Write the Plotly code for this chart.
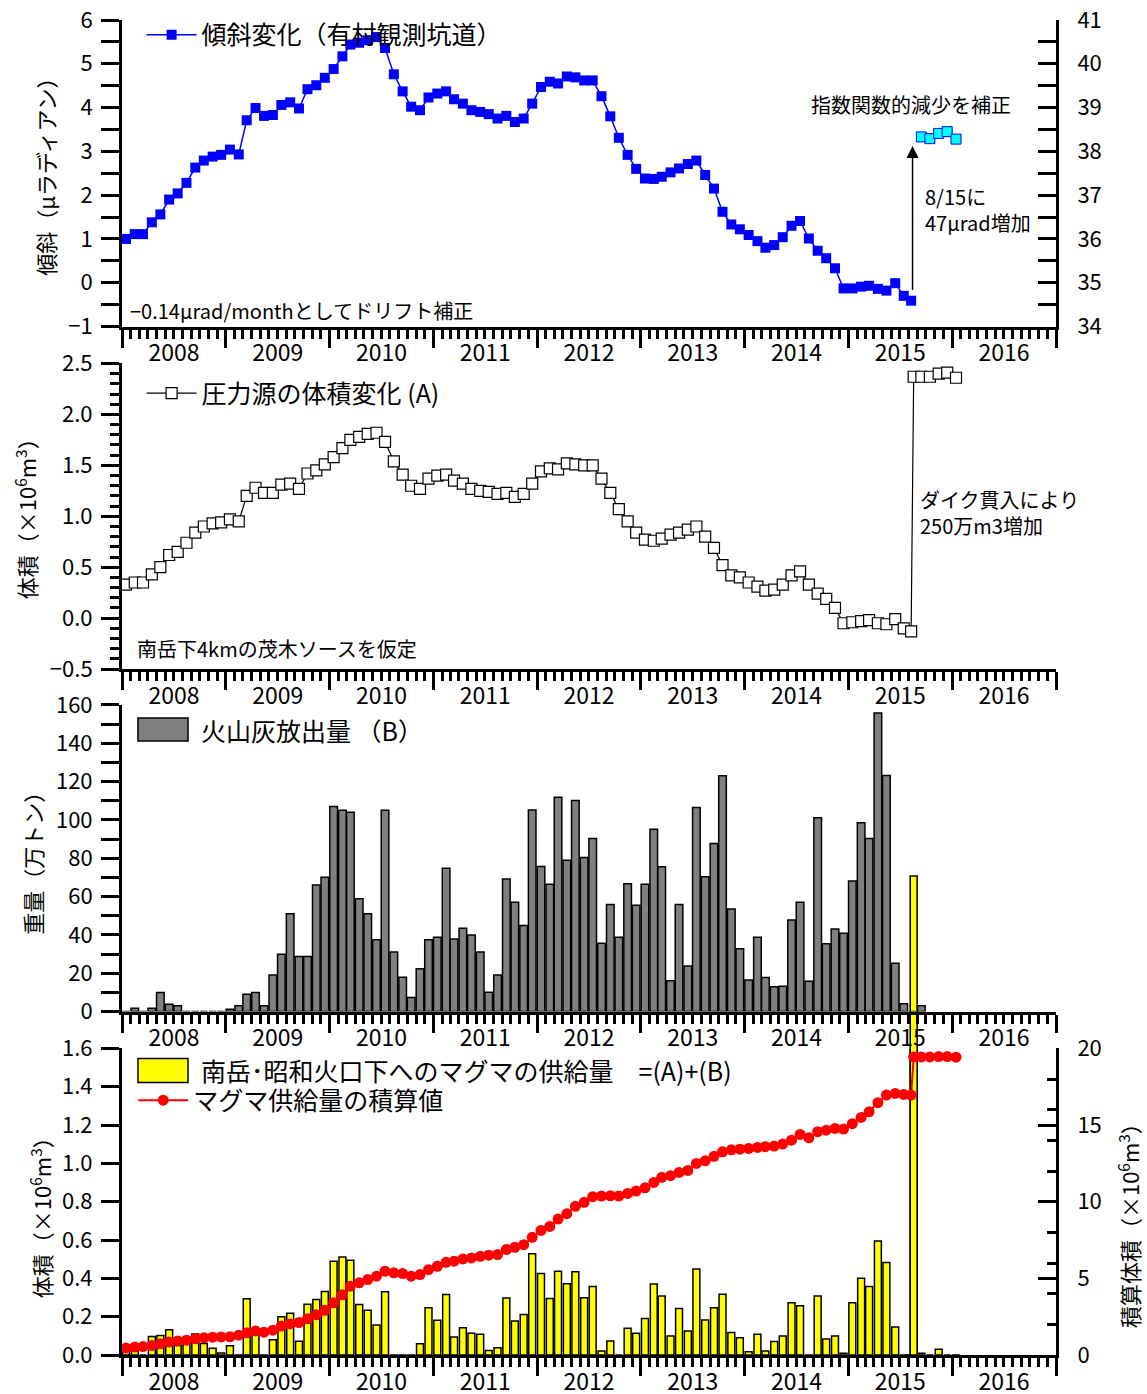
import pandas as pd
import plotly.graph_objects as go

FONT = "Noto Sans CJK JP"

def month_mids(y, m, n):
    out = []
    for _ in range(n):
        out.append(f"{y}-{m:02d}-15")
        m += 1
        if m > 12:
            m = 1
            y += 1
    return out

# ---- time categories ----
MONTHLY = month_mids(2007, 12, 92)          # Dec 2007 .. Jul 2015
AUG_PRE = "2015-08-10"                      # before the 8/15 dike intrusion
AUG_POST = "2015-08-19"                     # after the 8/15 dike intrusion
AUG_EVENT = "2015-08-15"
POST = month_mids(2015, 9, 5)               # Sep 2015 .. Jan 2016

# ---- panel 1: tilt (micro-radian) ----
tilt = [0.86,
        1.00, 1.11, 1.11, 1.38, 1.56, 1.90, 2.04, 2.28, 2.63, 2.79, 2.88, 2.92,
        3.04, 2.93, 3.71, 3.99, 3.81, 3.83, 4.06, 4.12, 3.98, 4.42, 4.51, 4.68,
        4.88, 5.17, 5.44, 5.48, 5.54, 5.61, 5.36, 4.76, 4.37, 4.02, 3.94, 4.23,
        4.32, 4.37, 4.19, 4.09, 3.94, 3.90, 3.85, 3.75, 3.81, 3.67, 3.75, 4.09,
        4.47, 4.59, 4.55, 4.71, 4.69, 4.62, 4.62, 4.26, 3.80, 3.31, 2.92, 2.60,
        2.38, 2.37, 2.42, 2.52, 2.61, 2.71, 2.79, 2.46, 2.15, 1.62, 1.33, 1.22,
        1.09, 0.95, 0.80, 0.86, 1.04, 1.30, 1.41, 1.01, 0.73, 0.56, 0.33, -0.13,
        -0.13, -0.09, -0.07, -0.14, -0.18, -0.01, -0.30,
        -0.41]
tilt_x = MONTHLY + [AUG_PRE]
tilt_corr = [3.33, 3.29, 3.41, 3.45, 3.28]
tilt_corr_x = POST
arrow_from, arrow_to = -0.20, 3.12

# ---- panel 2: source volume change A (x10^6 m3) ----
vol_a = [0.28,
         0.33, 0.35, 0.35, 0.43, 0.50, 0.62, 0.65, 0.74, 0.84, 0.90, 0.93, 0.94,
         0.97, 0.95, 1.20, 1.28, 1.23, 1.23, 1.31, 1.32, 1.27, 1.42, 1.45, 1.51,
         1.58, 1.67, 1.75, 1.78, 1.81, 1.82, 1.73, 1.54, 1.41, 1.30, 1.27, 1.37,
         1.40, 1.41, 1.35, 1.32, 1.27, 1.25, 1.24, 1.22, 1.23, 1.19, 1.22, 1.32,
         1.44, 1.47, 1.46, 1.52, 1.51, 1.50, 1.50, 1.37, 1.23, 1.07, 0.95, 0.84,
         0.77, 0.76, 0.78, 0.82, 0.84, 0.87, 0.90, 0.80, 0.69, 0.52, 0.42, 0.40,
         0.35, 0.31, 0.27, 0.28, 0.33, 0.42, 0.46, 0.33, 0.24, 0.19, 0.10, -0.05,
         -0.04, -0.03, -0.02, -0.05, -0.06, -0.01, -0.10,
         -0.13, 2.37,
         2.37, 2.37, 2.40, 2.41, 2.36]
vol_a_x = MONTHLY + [AUG_PRE, AUG_POST] + POST

# ---- panel 3: ash emission B (10^4 t) ----
ash = [0,
       0, 1.7, 0, 1.7, 9.9, 3.8, 3.0, 0, 0, 0, 0, 0,
       1.2, 3.0, 9.0, 9.9, 3.0, 19.1, 29.9, 51.0, 28.7, 28.7, 66.1, 70.1,
       107.0, 105.0, 104.0, 58.8, 51.0, 37.4, 105.0, 31.0, 17.9, 7.3, 22.3, 37.4,
       38.8, 74.8, 37.9, 43.5, 40.0, 31.0, 10.1, 19.1, 69.2, 57.0, 44.9, 105.2,
       75.7, 66.4, 111.8, 79.0, 110.1, 80.4, 90.3, 35.6, 55.9, 38.7, 66.7, 55.4,
       66.4, 95.2, 75.6, 16.0, 55.9, 23.8, 106.5, 70.4, 87.7, 123.0, 53.5, 32.7,
       16.5, 38.7, 17.7, 12.9, 13.2, 47.8, 57.0, 15.8, 101.1, 35.4, 43.1, 40.8,
       68.1, 98.5, 90.3, 155.8, 123.2, 25.2, 4.0,
       0, 3.0]
ash_x = MONTHLY + ["2015-08-15", "2015-09-15"]

# ---- panel 4: magma supply (A)+(B) (x10^6 m3) and cumulative ----
supply = [0.072,
          0.04, 0.02, 0.0, 0.097, 0.102, 0.132, 0.05, 0.07, 0.11, 0.06, 0.035, 0.01,
          0.048, -0.02, 0.293, 0.12, -0.042, 0.08, 0.20, 0.218, 0.072, 0.265, 0.29, 0.332,
          0.489, 0.512, 0.495, 0.264, 0.233, 0.156, 0.330, -0.069, -0.049, -0.087, 0.059, 0.246,
          0.182, 0.316, 0.094, 0.142, 0.113, 0.108, 0.024, 0.038, 0.298, 0.177, 0.212, 0.528,
          0.425, 0.295, 0.437, 0.372, 0.435, 0.299, 0.357, 0.021, 0.073, 0.0, 0.139, 0.113,
          0.191, 0.370, 0.308, 0.099, 0.243, 0.125, 0.449, 0.183, 0.247, 0.317, 0.118, 0.090,
          0.017, 0.108, 0.021, 0.070, 0.099, 0.273, 0.257, -0.070, 0.308, 0.083, 0.099, 0.009,
          0.273, 0.400, 0.357, 0.595, 0.483, 0.146, -0.075,
          -0.035, 2.50,
          0.009, 0.0, 0.030, 0.0, -0.047]
supply_x = MONTHLY + [AUG_PRE, AUG_POST] + POST

cumulative = [0.45, 0.52, 0.55, 0.62, 0.73, 0.84, 0.92, 0.97, 1.06, 1.12, 1.16, 1.18,
              1.19, 1.29, 1.45, 1.57, 1.49, 1.62, 1.89, 2.03, 2.12, 2.36, 2.63, 2.92,
              3.41, 3.93, 4.49, 4.71, 4.92, 5.14, 5.47, 5.36, 5.31, 5.14, 5.25, 5.57,
              5.79, 6.05, 6.12, 6.27, 6.33, 6.44, 6.51, 6.55, 6.88, 7.03, 7.20, 7.68,
              8.13, 8.39, 8.87, 9.22, 9.70, 9.96, 10.33, 10.37, 10.39, 10.37, 10.54, 10.70,
              10.91, 11.26, 11.59, 11.70, 11.91, 12.04, 12.50, 12.67, 12.96, 13.26, 13.39, 13.43,
              13.48, 13.54, 13.59, 13.63, 13.76, 14.02, 14.39, 14.17, 14.57, 14.67, 14.78, 14.74,
              15.09, 15.50, 15.87, 16.46, 16.96, 17.07, 17.00,
              16.96, 19.45,
              19.45, 19.45, 19.47, 19.47, 19.43]
cumulative_x = MONTHLY[1:] + [AUG_PRE, AUG_POST] + POST

NAME_TILT = "傾斜変化（有村観測坑道）"
NAME_A = "圧力源の体積変化 (A)"
NAME_ASH = "火山灰放出量 （B）"
NAME_SUPPLY = "南岳･昭和火口下へのマグマの供給量　=(A)+(B)"
NAME_CUM = "マグマ供給量の積算値"

Y4_RANGE = [0, 1.6]
MONTH_MS = 30.44 * 86400000
SUPPLY_W = 0.8 * MONTH_MS
ASH_COLOR, SUPPLY_COLOR = "#808080", "#FFFF00"

fig = go.Figure()

# panel 1
fig.add_trace(go.Scatter(
    x=tilt_x, y=tilt, mode="lines+markers", name=NAME_TILT,
    line=dict(color="#0000FF", width=1.5),
    marker=dict(symbol="square", size=10, color="#0000FF"),
    xaxis="x", yaxis="y", cliponaxis=False, legend="legend"))
fig.add_trace(go.Scatter(
    x=tilt_corr_x, y=tilt_corr, mode="markers", showlegend=False,
    marker=dict(symbol="square", size=10, color="#00FFFF",
                line=dict(color="#0000FF", width=1)),
    xaxis="x", yaxis="y", cliponaxis=False))
fig.add_trace(go.Scatter(x=[], y=[], xaxis="x", yaxis="y5", showlegend=False))

# panel 2
fig.add_trace(go.Scatter(
    x=vol_a_x, y=vol_a, mode="lines+markers", name=NAME_A,
    line=dict(color="black", width=1.2),
    marker=dict(symbol="square", size=11, color="white",
                line=dict(color="black", width=1.2)),
    xaxis="x2", yaxis="y2", cliponaxis=False, legend="legend2"))

# panel 3
fig.add_trace(go.Bar(
    x=ash_x, y=ash, name=NAME_ASH, showlegend=False,
    width=0.88 * MONTH_MS,
    marker=dict(color=ASH_COLOR, line=dict(color="black", width=1.5)),
    xaxis="x3", yaxis="y3"))

# panel 4
fig.add_trace(go.Bar(
    x=supply_x, y=supply, name=NAME_SUPPLY, showlegend=False,
    width=SUPPLY_W,
    marker=dict(color=SUPPLY_COLOR, line=dict(color="black", width=1.5)),
    xaxis="x4", yaxis="y4", cliponaxis=False))
fig.add_trace(go.Scatter(
    x=cumulative_x, y=cumulative, mode="lines+markers", name=NAME_CUM,
    line=dict(color="#FF0000", width=2),
    marker=dict(symbol="circle", size=11, color="#FF0000"),
    xaxis="x4", yaxis="y6", legend="legend4"))

# the dike-intrusion bar runs past the top of its panel (as in the original):
# draw its full height, clipped only horizontally
big_i = supply.index(max(supply))
big_t = pd.Timestamp(supply_x[big_i])
half = pd.Timedelta(milliseconds=SUPPLY_W / 2)
fig.add_shape(type="rect", xref="x4", yref="y4 domain",
              x0=str(big_t - half), x1=str(big_t + half),
              y0=0, y1=supply[big_i] / Y4_RANGE[1],
              fillcolor=SUPPLY_COLOR, line=dict(color="black", width=1.5), layer="below")

# ---- axes ----
xcommon = dict(
    type="date", range=["2008-01-01", "2017-01-01"],
    tick0="2008-01-01", dtick="M12", tickformat="%Y", ticklabelmode="period",
    ticks="outside", ticklen=18, tickwidth=2.5, tickcolor="black",
    minor=dict(dtick="M1", ticks="outside", ticklen=9, tickwidth=2.5, tickcolor="black"),
    showline=True, linewidth=3, linecolor="black",
    showgrid=False, zeroline=False, automargin=False,
    tickfont=dict(size=23, color="black"), ticklabelstandoff=-14)

ycommon = dict(showline=True, linewidth=3, linecolor="black", showgrid=False,
               zeroline=False, automargin=False, ticks="outside", ticklen=18,
               tickwidth=2.5, tickcolor="black", tickfont=dict(size=22, color="black"),
               ticklabelstandoff=4)

D1 = [0.7704, 1.0]
D2 = [0.5138, 0.7427]
D3 = [0.2573, 0.4869]
D4 = [0.0, 0.2296]

fig.update_layout(
    xaxis=dict(xcommon, anchor="y"),
    xaxis2=dict(xcommon, anchor="y2"),
    xaxis3=dict(xcommon, anchor="y3"),
    xaxis4=dict(xcommon, anchor="y4"),
    yaxis=dict(ycommon, domain=D1, anchor="x", range=[-1, 6], dtick=1,
               minor=dict(dtick=0.5, ticks="outside", ticklen=18, tickwidth=2.5, tickcolor="black")),
    yaxis5=dict(ycommon, overlaying="y", side="right", anchor="x", range=[34, 41], dtick=1,
                ticks="inside", ticklabelstandoff=14,
                minor=dict(dtick=0.5, ticks="inside", ticklen=18, tickwidth=2.5, tickcolor="black")),
    yaxis2=dict(ycommon, domain=D2, anchor="x2", range=[-0.5, 2.5], dtick=0.5, tickformat=".1f",
                minor=dict(dtick=0.1, ticks="outside", ticklen=9, tickwidth=2.5, tickcolor="black")),
    yaxis3=dict(ycommon, domain=D3, anchor="x3", range=[0, 160], dtick=20,
                minor=dict(dtick=10, ticks="outside", ticklen=18, tickwidth=2.5, tickcolor="black")),
    yaxis4=dict(ycommon, domain=D4, anchor="x4", range=Y4_RANGE, dtick=0.2, tickformat=".1f"),
    yaxis6=dict(ycommon, overlaying="y4", side="right", anchor="x4", range=[0, 20], dtick=5,
                ticks="inside", ticklabelstandoff=14,
                minor=dict(dtick=2, ticks="inside", ticklen=9, tickwidth=2.5, tickcolor="black")),
    barmode="overlay",
    width=1147, height=1394,
    margin=dict(l=122, r=91, t=18, b=39),
    paper_bgcolor="white", plot_bgcolor="white",
    font=dict(family=FONT, size=22, color="black"),
    hovermode=False,
)

leg = dict(bgcolor="rgba(0,0,0,0)", borderwidth=0, font=dict(size=25, color="black"),
           xanchor="left", yanchor="middle", x=0.021, itemwidth=50, tracegroupgap=0)
fig.update_layout(
    legend=dict(leg, y=0.9888),
    legend2=dict(leg, y=0.7203),
    legend4=dict(leg, y=0.1907, x=0.012),
)

# legend entries for the bar series, with the wide swatch of the original
def bar_key(name, color, y0, y1, ytext):
    fig.add_shape(type="rect", xref="paper", yref="paper",
                  x0=0.0171, x1=0.0707, y0=y0, y1=y1,
                  fillcolor=color, line=dict(color="black", width=1.5))
    fig.add_annotation(text=name, xref="paper", yref="paper", x=0.0825, y=ytext,
                       xanchor="left", yanchor="middle", showarrow=False,
                       font=dict(size=25))

bar_key(NAME_ASH, ASH_COLOR, 0.4600, 0.4772, 0.4682)
bar_key(NAME_SUPPLY, SUPPLY_COLOR, 0.2042, 0.2221, 0.2132)

# ---- axis titles ----
def vtitle(text, x, y, angle=-90):
    fig.add_annotation(text=text, xref="paper", yref="paper", x=x, y=y,
                       textangle=angle, showarrow=False, xanchor="center", yanchor="middle",
                       font=dict(size=22))

vtitle("傾斜（μラディアン）", -0.0824, 0.8863)
vtitle("体積（×10<sup>6</sup>m<sup>3</sup>）", -0.1039, 0.6305)
vtitle("重量（万トン）", -0.0964, 0.3725)
vtitle("体積（×10<sup>6</sup>m<sup>3</sup>）", -0.0878, 0.107)
vtitle("積算体積（×10<sup>6</sup>m<sup>3</sup>）", 1.077, 0.101)

# ---- notes ----
def note(text, xref, yref, x, y, xanchor="left", size=20):
    fig.add_annotation(text=text, xref=xref, yref=yref, x=x, y=y, showarrow=False,
                       xanchor=xanchor, yanchor="middle", align="left",
                       font=dict(size=size))

note("−0.14μrad/monthとしてドリフト補正", "x domain", "y domain", 0.006, 0.052)
note("指数関数的減少を補正", "x domain", "y domain", 0.845, 0.723, xanchor="center")
note("8/15に<br>47μrad増加", "x domain", "y domain", 0.858, 0.381)
note("南岳下4kmの茂木ソースを仮定", "x2 domain", "y2 domain", 0.014, 0.0686)
note("ダイク貫入により<br>250万m3増加", "x2 domain", "y2 domain", 0.852, 0.513)

fig.add_annotation(x=AUG_EVENT, y=arrow_to, ax=AUG_EVENT, ay=arrow_from,
                   xref="x", yref="y", axref="x", ayref="y", text="",
                   showarrow=True, arrowhead=2, arrowsize=1.6, arrowwidth=1.5,
                   arrowcolor="black")

# page without the browser's default 8px body margin, so the figure fills the window
fig.write_html(
    "out.html",
    config={"displayModeBar": False},
    post_script="document.body.style.margin='0';document.body.style.overflow='hidden';",
)
